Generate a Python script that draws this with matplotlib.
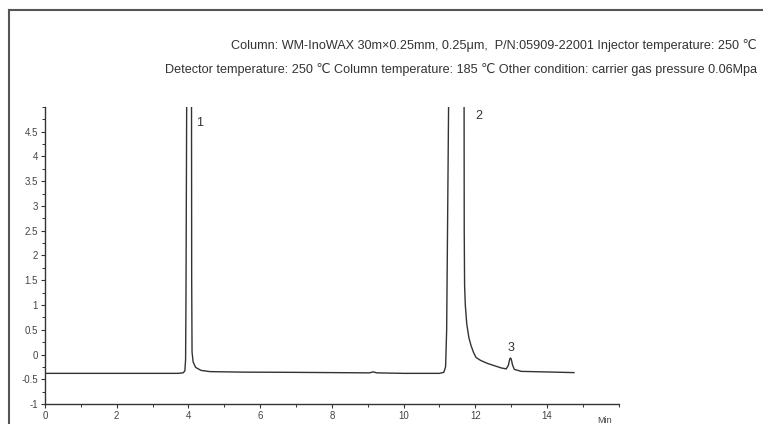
import matplotlib
matplotlib.use('Agg')
import matplotlib.pyplot as plt
from matplotlib.lines import Line2D

# chromatogram trace (min, signal); peaks 1 and 2 go off scale
time = [0.0, 3.7, 3.85, 3.9, 3.92, 3.93, 3.95, 3.97,
        4.08, 4.09, 4.1, 4.13, 4.2, 4.35, 4.6, 5.5, 7.0, 9.05, 9.15, 9.25, 10.0,
        11.0, 11.12, 11.17, 11.2, 11.23, 11.3,
        11.68, 11.69, 11.7, 11.72, 11.76, 11.82, 11.88, 11.95, 12.02, 12.15, 12.34,
        12.55, 12.72, 12.86, 12.92, 12.96, 12.98, 13.0, 13.04, 13.09, 13.28, 14.2, 14.75]
signal = [-0.38, -0.38, -0.37, -0.33, -0.1, 1.0, 5.0, 9.0,
          9.0, 1.5, 0.05, -0.15, -0.26, -0.32, -0.345, -0.355, -0.36, -0.37, -0.35, -0.37, -0.38,
          -0.38, -0.36, -0.25, 0.5, 3.0, 9.0,
          9.0, 2.5, 1.4, 1.0, 0.62, 0.34, 0.18, 0.04, -0.06, -0.12, -0.18,
          -0.23, -0.27, -0.29, -0.22, -0.09, -0.07, -0.09, -0.22, -0.3, -0.34, -0.355, -0.365]

peak_labels = ['1', '2', '3']
peak_x = [4.3, 12.1, 13.0]
peak_y = [4.67, 4.81, 0.14]

line1 = 'Column: WM-InoWAX 30m×0.25mm, 0.25μm,  P/N:05909-22001 Injector temperature: 250 ℃'
line2 = 'Detector temperature: 250 ℃ Column temperature: 185 ℃ Other condition: carrier gas pressure 0.06Mpa'

fnt = ['Liberation Sans Narrow', 'Liberation Sans', 'DejaVu Sans']

fig = plt.figure(figsize=(7.63, 4.24), dpi=100)
ax = fig.add_axes([0.059, 0.047, 0.752, 0.701])

ax.plot(time, signal, color='#333333', lw=1.0)
ax.set_xlim(0, 16)
ax.set_ylim(-1, 5)

ax.set_xticks(range(0, 16, 2))
ax.set_xticks(range(0, 17), minor=True)
ax.set_yticks([-1, -0.5, 0, 0.5, 1, 1.5, 2, 2.5, 3, 3.5, 4, 4.5])
ax.set_yticklabels(['-1', '-0.5', '0', '0.5', '1', '1.5', '2', '2.5', '3', '3.5', '4', '4.5'])
ax.set_yticks([-1 + 0.25 * i for i in range(25)], minor=True)
ax.tick_params(axis='both', which='major', labelsize=7, length=3, width=0.8,
               colors='#333333', labelcolor='#444444', pad=2)
ax.tick_params(axis='both', which='minor', length=2, width=0.7, colors='#333333')
for lab in ax.get_xticklabels() + ax.get_yticklabels():
    lab.set_family(fnt)

for s in ['top', 'right']:
    ax.spines[s].set_visible(False)
for s in ['left', 'bottom']:
    ax.spines[s].set_color('#333333')
    ax.spines[s].set_linewidth(1.0)

for lab, x, y in zip(peak_labels, peak_x, peak_y):
    ax.text(x, y, lab, fontsize=9, color='#333333', ha='center', va='center', family=fnt)

ax.text(15.6, -1.25, 'Min', fontsize=6.5, color='#444444', ha='center', va='top', family=fnt)

fig.text(757 / 763, 1 - 46 / 424, line1, ha='right', va='center', fontsize=9.1,
         color='#333333', family=fnt)
fig.text(757 / 763, 1 - 70 / 424, line2, ha='right', va='center', fontsize=9.1,
         color='#333333', family=fnt)

# outer frame (only top and left edges are visible)
fig.add_artist(Line2D([9 / 763, 1.0], [1 - 10 / 424, 1 - 10 / 424], color='#555555', lw=1.5))
fig.add_artist(Line2D([9 / 763, 9 / 763], [0.0, 1 - 10 / 424], color='#555555', lw=1.5))

fig.savefig('out.png', dpi=100)
